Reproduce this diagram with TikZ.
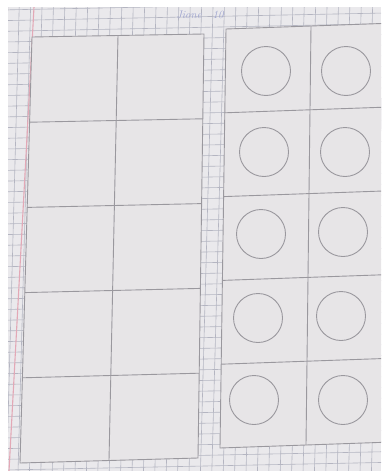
\documentclass[tikz,border=0pt]{standalone}
\usetikzlibrary{calc}
\definecolor{paper}{HTML}{EAE9EC}
\definecolor{gridc}{HTML}{B4B5C1}
\definecolor{sheet}{HTML}{E7E5E7}
\definecolor{pencil}{HTML}{9A989E}
\definecolor{ink}{HTML}{9DA3CF}
\definecolor{margin}{HTML}{E3A8B6}
\begin{document}
\begin{tikzpicture}[x=1pt,y=-1pt,
  frameline/.style={draw=pencil,line width=0.9pt},
  counter/.style={circle,draw=pencil,line width=0.9pt,minimum size=49pt,inner sep=0pt},
  gridline/.style={draw=gridc,line width=0.6pt},
  marginline/.style={draw=margin,line width=1.1pt}]
\useasboundingbox (0,0) rectangle (381,471);
\clip (0,0) rectangle (381,471);
\fill[white] (0,0) rectangle (381,471);
\fill[paper] (8,7) rectangle (381,471);
\begin{scope}
  \clip (8,7) rectangle (381,471);
  \foreach \i in {0,...,36} {\draw[gridline] ({8+\i*11.4},0) -- ({8+\i*11.4-13},480);}
  \foreach \j in {0,...,45} {\draw[gridline] (0,{10+\j*10.7}) -- (400,{10+\j*10.7-8});}
  \draw[marginline] (34,7) -- (9,471);
\end{scope}
\node[text=ink,font=\fontsize{11}{11}\selectfont\itshape] (title) at (200,15) {Jione\quad 10};
% left ten-frame (empty)
\coordinate (LTL) at (32,37);
\coordinate (LTR) at (204,34);
\coordinate (LBR) at (198,458);
\coordinate (LBL) at (20,463);
\fill[sheet] (LTL) -- (LTR) -- (LBR) -- (LBL) -- cycle;
\draw[frameline] (LTL) -- (LTR) -- (LBR) -- (LBL) -- cycle;
\foreach \k in {1,...,4} {\draw[frameline] ($(LTL)!{\k/5}!(LBL)$) -- ($(LTR)!{\k/5}!(LBR)$);}
\draw[frameline] ($(LTL)!.5!(LTR)$) -- ($(LBL)!.5!(LBR)$);
% right ten-frame (full)
\coordinate (RTL) at (226,29);
\coordinate (RTR) at (396,23);
\coordinate (RBR) at (392,442);
\coordinate (RBL) at (220,448);
\fill[sheet] (RTL) -- (RTR) -- (RBR) -- (RBL) -- cycle;
\draw[frameline] (RTL) -- (RTR) -- (RBR) -- (RBL) -- cycle;
\foreach \k in {1,...,4} {\draw[frameline] ($(RTL)!{\k/5}!(RBL)$) -- ($(RTR)!{\k/5}!(RBR)$);}
\draw[frameline] ($(RTL)!.5!(RTR)$) -- ($(RBL)!.5!(RBR)$);
% counters
\node[counter] (a1) at (266,71) {};
\node[counter] (b1) at (346,71) {};
\node[counter] (a2) at (264,152) {};
\node[counter] (b2) at (345,152) {};
\node[counter] (a3) at (261,234) {};
\node[counter] (b3) at (343,232) {};
\node[counter] (a4) at (258,318) {};
\node[counter] (b4) at (341,316) {};
\node[counter] (a5) at (254,400) {};
\node[counter] (b5) at (343,400) {};
\end{tikzpicture}
\end{document}
